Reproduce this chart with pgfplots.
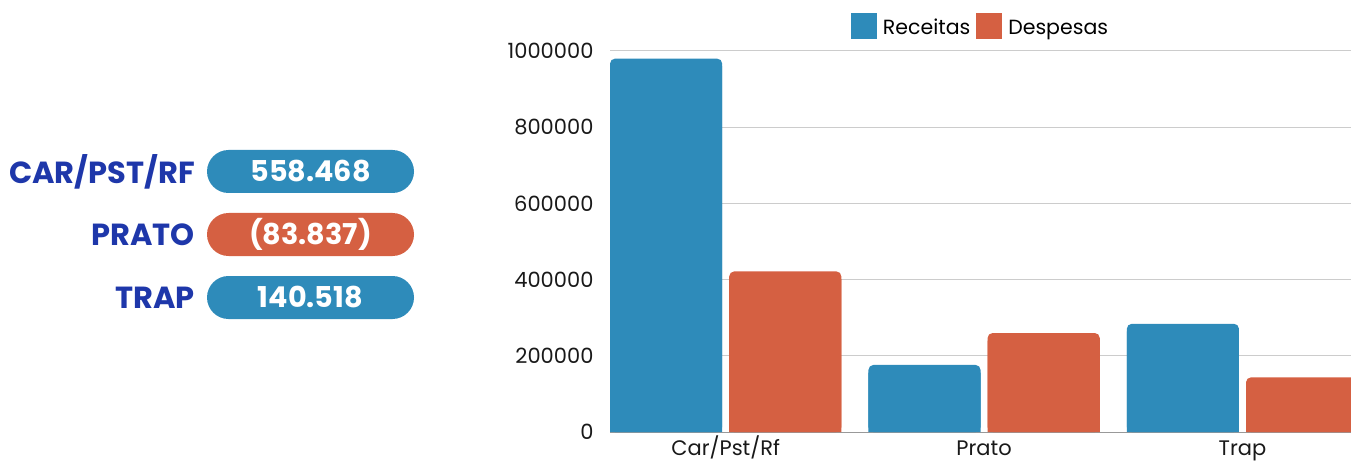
\documentclass[border=0pt]{standalone}
\usepackage{pgfplots}
\pgfplotsset{compat=1.18}
\usepackage{pgfplotstable}
\usepackage{fontspec}
\setmainfont{Poppins}
\definecolor{rec}{RGB}{46,139,186}
\definecolor{desp}{RGB}{213,96,66}
\definecolor{lab}{RGB}{30,55,170}
\pgfplotstableread{
x R D
0 980000 421532
1 176000 259837
2 284000 143482
}\data
\begin{document}
\begin{tikzpicture}[x=1pt,y=1pt]
\useasboundingbox (0,0) rectangle (1351,464);
\begin{axis}[
  at={(610pt,32pt)}, anchor=south west,
  scale only axis, width=741pt, height=381pt,
  xmin=-0.4477, xmax=2.42, ymin=0, ymax=1000000,
  axis x line=bottom, axis y line=left,
  axis line style={-},
  x axis line style={draw=gray!80, line width=1pt},
  y axis line style={draw=none},
  ymajorgrids, grid style={draw=gray!40, line width=1pt},
  major tick length=0pt, tick style={draw=none},
  xtick={0,1,2}, xticklabels={Car/Pst/Rf,Prato,Trap},
  ytick={0,200000,400000,600000,800000,1000000},
  yticklabels={0,200000,400000,600000,800000,1000000},
  scaled y ticks=false,
  tick label style={font=\fontsize{21}{24}\selectfont, text=black!90},
  yticklabel style={xshift=-13pt},
  xticklabel style={yshift=-3pt, text height=17pt, text depth=4pt},
  bar width=0.434,
  legend columns=2,
  legend style={at={(0.5,1.066)}, anchor=center, draw=none, fill=none,
    font=\fontsize{20.5}{24}\selectfont, column sep=4pt},
  legend image code/.code={\fill[#1, sharp corners] (0pt,-11pt) rectangle (26pt,15pt);},
]
\addplot[ybar, fill=rec, draw=none, bar shift=-0.2306, rounded corners=5pt] table[x=x,y=R]{\data};
\addplot[ybar, fill=rec, draw=none, bar shift=-0.2306, forget plot] table[x=x,y expr=\thisrow{R}-20000]{\data};
\addplot[ybar, fill=desp, draw=none, bar shift=0.2306, rounded corners=5pt] table[x=x,y=D]{\data};
\addplot[ybar, fill=desp, draw=none, bar shift=0.2306, forget plot] table[x=x,y expr=\thisrow{D}-20000]{\data};
\legend{Receitas,Despesas}
\end{axis}
\tikzset{pill/.style={rounded corners=21.5pt, minimum width=207pt, minimum height=43pt, inner sep=0pt, text=white, font=\bfseries\fontsize{28.7}{30}\selectfont},
  lbl/.style={anchor=east, inner sep=0pt, text=lab, font=\bfseries\fontsize{30.5}{32}\selectfont}}
\node[pill, fill=rec] at (310.5,292.5) {558.468};
\node[pill, fill=desp] at (310.5,229.5) {(83.837)};
\node[pill, fill=rec] at (310.5,166.5) {140.518};
\node[lbl] at (195,292.5) {CAR/PST/RF};
\node[lbl] at (195,229.5) {PRATO};
\node[lbl] at (195,166.5) {TRAP};
\end{tikzpicture}
\end{document}
